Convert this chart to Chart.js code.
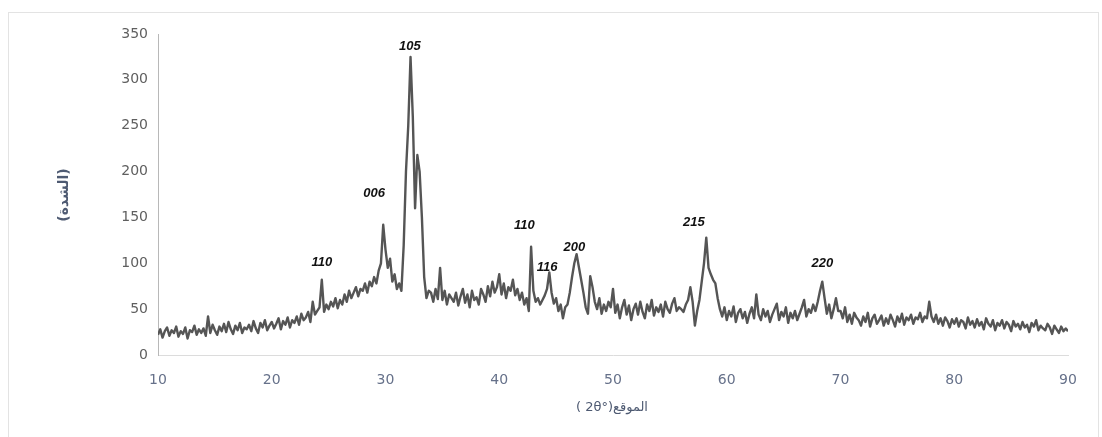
<!DOCTYPE html>
<html>
<head>
<meta charset="utf-8">
<script src="https://cdn.jsdelivr.net/npm/chart.js@4.4.1/dist/chart.umd.min.js"></script>
<style>
  html,body{margin:0;padding:0;background:#fff;}
  #wrap{width:1102px;height:437px;position:relative;}
</style>
</head>
<body>
<div id="wrap"><canvas id="xrd" width="1102" height="437"></canvas></div>
<script>
// XRD scan: 2theta from 10 to 90 deg, sampled every 0.2 deg
const THETA_START = 10;
const THETA_STEP = 0.2;

// intensities, one row per 2 degrees
const intensity = [
  22, 28, 19, 26, 30, 21, 27, 24, 31, 20,      // 10
  26, 23, 30, 18, 27, 25, 32, 22, 28, 24,      // 12
  29, 21, 42, 24, 33, 27, 22, 31, 26, 34,      // 14
  25, 36, 28, 23, 32, 27, 35, 24, 30, 28,      // 16
  33, 26, 37, 29, 24, 35, 30, 38, 27, 32,      // 18
  36, 29, 34, 40, 28, 37, 33, 41, 30, 38,      // 20
  35, 42, 33, 45, 38, 41, 47, 36, 58, 44,      // 22
  48, 52, 82, 47, 55, 50, 58, 53, 62, 51,      // 24
  60, 55, 66, 58, 70, 62, 68, 74, 64, 72,      // 26
  70, 78, 68, 80, 75, 85, 78, 92, 100, 142,    // 28
  115, 95, 105, 80, 88, 72, 78, 70, 120, 200,  // 30
  250, 325, 260, 160, 218, 200, 150, 85, 62, 70, // 32
  68, 58, 72, 61, 95, 60, 70, 55, 66, 62,      // 34
  58, 68, 54, 64, 72, 57, 66, 52, 70, 60,      // 36
  63, 55, 72, 66, 58, 75, 64, 80, 68, 74,      // 38
  88, 66, 78, 62, 74, 70, 82, 65, 72, 60,      // 40
  68, 55, 62, 48, 118, 70, 58, 62, 55, 60,     // 42
  65, 72, 90, 68, 56, 62, 48, 55, 40, 52,      // 44
  55, 68, 85, 100, 110, 96, 82, 68, 52, 45,    // 46
  86, 74, 58, 50, 62, 45, 55, 48, 58, 52,      // 48
  72, 46, 55, 40, 52, 60, 44, 54, 38, 50,      // 50
  56, 44, 58, 47, 40, 55, 48, 60, 43, 52,      // 52
  47, 55, 42, 58, 50, 46, 56, 62, 48, 52,      // 54
  50, 47, 55, 60, 74, 58, 32, 48, 60, 80,      // 56
  100, 128, 95, 88, 82, 78, 62, 50, 42, 52,    // 58
  38, 48, 42, 53, 36, 46, 50, 40, 47, 35,      // 60
  45, 52, 40, 66, 44, 38, 50, 42, 48, 36,      // 62
  44, 50, 56, 38, 47, 42, 52, 35, 46, 40,      // 64
  48, 38, 45, 52, 60, 42, 50, 46, 55, 48,      // 66
  58, 70, 80, 62, 45, 55, 40, 50, 62, 48,      // 68
  48, 40, 52, 36, 44, 34, 46, 41, 38, 32,      // 70
  42, 36, 46, 31, 40, 44, 34, 38, 43, 32,      // 72
  40, 34, 44, 38, 31, 42, 36, 45, 33, 41,      // 74
  38, 44, 34, 41, 39, 46, 36, 42, 40, 58,      // 76
  42, 36, 44, 34, 40, 32, 41, 37, 30, 39,      // 78
  34, 40, 31, 38, 36, 29, 41, 33, 37, 30,      // 80
  39, 32, 36, 28, 40, 34, 31, 38, 27, 35,      // 82
  32, 38, 29, 36, 33, 26, 37, 31, 34, 28,      // 84
  36, 30, 33, 25, 35, 31, 38, 27, 32, 29,      // 86
  27, 34, 30, 23, 32, 28, 24, 31, 26, 29,      // 88
  26                                           // 90
];

// Miller index labels and where they sit (2theta, intensity)
const peakLabels = ['110', '006', '105', '110', '116', '200', '215', '220'];
const peakLabelX = [24.4, 29.0, 32.15, 42.2, 44.2, 46.6, 57.1, 68.4];
const peakLabelY = [101, 176, 336, 141, 95, 117, 145, 100];

const yTicks = [0, 50, 100, 150, 200, 250, 300, 350];
const xTicks = [10, 20, 30, 40, 50, 60, 70, 80, 90];

const xTitle = '( 2θ°)الموقع';
const yTitle = '(الشدة)';

const points = intensity.map((v, i) => ({x: +(THETA_START + i * THETA_STEP).toFixed(1), y: v}));

const frameAndTitles = {
  id: 'frameAndTitles',
  beforeDraw(chart) {
    const ctx = chart.ctx;
    ctx.save();
    ctx.fillStyle = '#fff';
    ctx.fillRect(0, 0, chart.width, chart.height);
    ctx.strokeStyle = '#e3e3e3';
    ctx.lineWidth = 1;
    ctx.strokeRect(8.5, 12.5, chart.width - 12, chart.height - 8);
    ctx.restore();
  },
  afterDraw(chart) {
    const ctx = chart.ctx, a = chart.chartArea;
    ctx.save();
    ctx.fillStyle = '#4e5a72';
    ctx.font = 'bold 14px "DejaVu Sans", sans-serif';
    ctx.textAlign = 'center';
    ctx.textBaseline = 'middle';
    ctx.translate(a.left - 94, a.top + 161);
    ctx.rotate(-Math.PI / 2);
    ctx.fillText(yTitle, 0, 0);
    ctx.restore();

    ctx.save();
    ctx.fillStyle = '#4e5a72';
    ctx.font = '13px "DejaVu Sans", sans-serif';
    ctx.textAlign = 'center';
    ctx.textBaseline = 'middle';
    ctx.fillText(xTitle, a.left + 454, a.bottom + 53);
    ctx.restore();
  },
  beforeDatasetsDraw(chart) {
    const ctx = chart.ctx, xs = chart.scales.x, ys = chart.scales.y;
    ctx.save();
    ctx.fillStyle = '#111';
    ctx.font = 'italic bold 13px "Liberation Sans", Arial, sans-serif';
    ctx.textAlign = 'center';
    ctx.textBaseline = 'middle';
    peakLabels.forEach((t, i) => {
      ctx.fillText(t, xs.getPixelForValue(peakLabelX[i]), ys.getPixelForValue(peakLabelY[i]));
    });
    ctx.restore();
  }
};

new Chart(document.getElementById('xrd'), {
  type: 'line',
  data: {
    datasets: [{
      data: points,
      borderColor: '#555555',
      borderWidth: 2.4,
      borderJoinStyle: 'round',
      pointRadius: 0,
      tension: 0,
      fill: false
    }]
  },
  options: {
    responsive: false,
    animation: false,
    events: [],
    layout: {padding: {left: 0, right: 34, top: 34, bottom: 0}},
    plugins: {legend: {display: false}, tooltip: {enabled: false}},
    scales: {
      x: {
        type: 'linear',
        min: 10, max: 90,
        afterBuildTicks: s => { s.ticks = xTicks.map(v => ({value: v})); },
        afterFit: s => { s.height = 82; },
        grid: {display: false, drawTicks: false},
        border: {display: true, color: '#dcdcdc', width: 1},
        ticks: {color: '#66718a', padding: 17, font: {family: 'DejaVu Sans', size: 14}}
      },
      y: {
        min: 0, max: 350,
        afterBuildTicks: s => { s.ticks = yTicks.map(v => ({value: v})); },
        afterFit: s => { s.width = 158; },
        grid: {display: false, drawTicks: false},
        border: {display: true, color: '#b8b8b8', width: 1},
        ticks: {color: '#5f5f5f', padding: 10, font: {family: 'DejaVu Sans', size: 14}}
      }
    }
  },
  plugins: [frameAndTitles]
});
</script>
</body>
</html>
